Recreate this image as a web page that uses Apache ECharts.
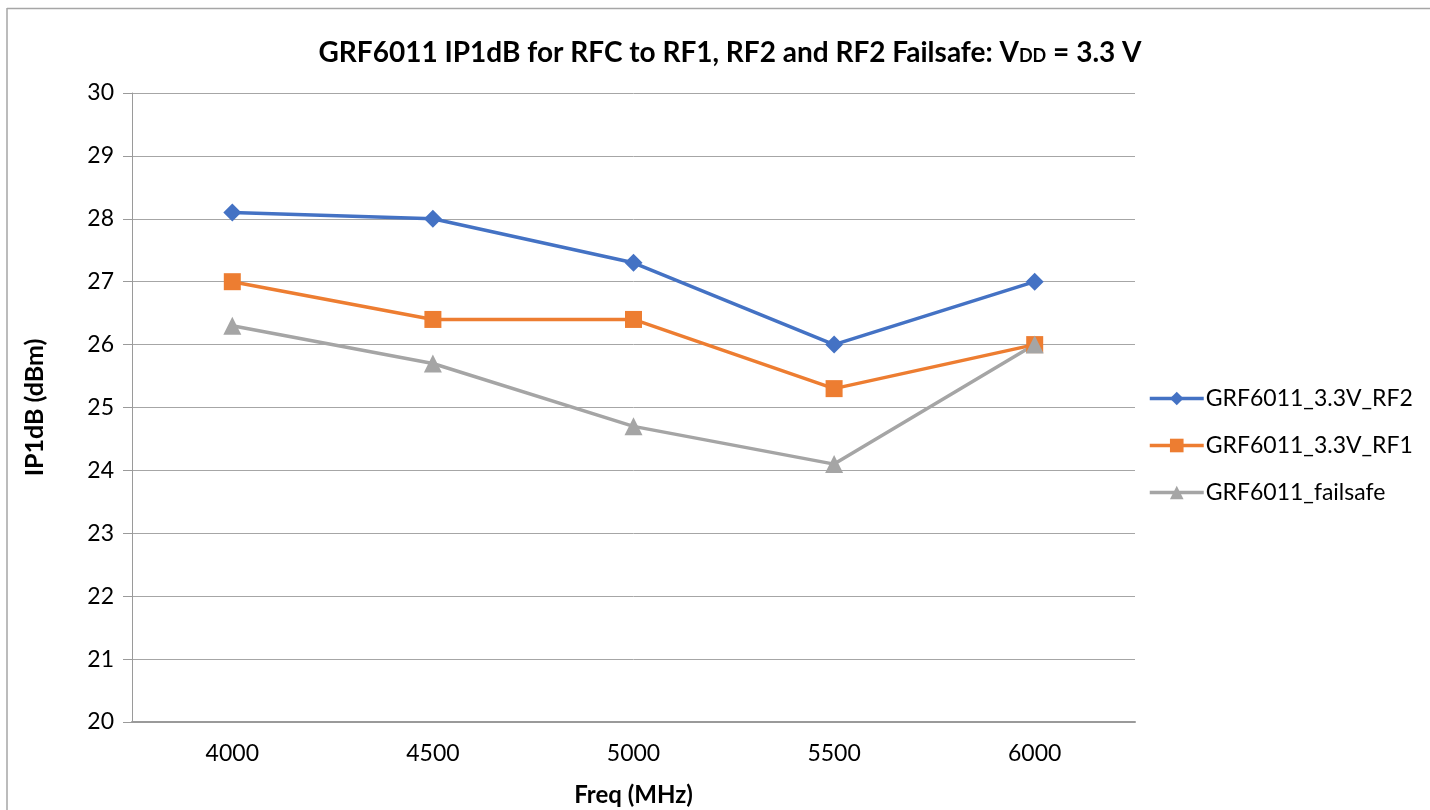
<!DOCTYPE html>
<html>
<head>
<meta charset="utf-8">
<script src="https://cdn.jsdelivr.net/npm/echarts@6/dist/echarts.min.js"></script>
<style>
  html, body { margin: 0; padding: 0; background: #fff; }
  #chart { width: 1430px; height: 810px; }
</style>
</head>
<body>
<div id="chart"></div>
<script>
const categories = ['4000', '4500', '5000', '5500', '6000']
const rf2 = [28.1, 28.0, 27.3, 26.0, 27.0]
const rf1 = [27.0, 26.4, 26.4, 25.3, 26.0]
const failsafe = [26.3, 25.7, 24.7, 24.1, 26.0]
const seriesNames = ['GRF6011_3.3V_RF2', 'GRF6011_3.3V_RF1', 'GRF6011_failsafe']

const FONT = 'Lato, "Open Sans", sans-serif'

const chart = echarts.init(document.getElementById('chart'))

function lineSeries(name, data, color, symbol, size) {
  return {
    name,
    type: 'line',
    data,
    symbol,
    symbolSize: size,
    lineStyle: { color, width: 3.5 },
    itemStyle: { color },
    emphasis: { disabled: true }
  }
}

chart.setOption({
  animation: false,
  backgroundColor: '#fff',
  textStyle: { fontFamily: FONT },
  title: {
    text: 'GRF6011 IP1dB for RFC to RF1, RF2 and RF2 Failsafe: V{sub|DD} = 3.3 V',
    left: 725,
    top: 34,
    textAlign: 'center',
    textStyle: {
      fontFamily: FONT,
      fontSize: 28,
      fontWeight: 'bold',
      color: '#000',
      rich: {
        sub: { fontFamily: FONT, fontSize: 18, fontWeight: 'bold', color: '#000', padding: [6, 0, 0, 0] }
      }
    }
  },
  legend: {
    orient: 'vertical',
    left: 1143,
    top: 382,
    itemGap: 24,
    itemWidth: 54,
    itemHeight: 17,
    data: seriesNames,
    lineStyle: { width: 3.5 },
    textStyle: { fontFamily: FONT, fontSize: 23, color: '#000', padding: [0, 0, 0, -3] }
  },
  grid: { left: 132, right: 295, top: 93, bottom: 88, outerBoundsMode: 'none' },
  xAxis: {
    type: 'category',
    data: categories,
    boundaryGap: true,
    name: 'Freq (MHz)',
    nameLocation: 'middle',
    nameGap: 61,
    nameTextStyle: { fontFamily: FONT, fontSize: 24, fontWeight: 'bold', color: '#000' },
    axisLine: { lineStyle: { color: '#9a9a9a', width: 2 } },
    axisTick: { show: false },
    axisLabel: { fontFamily: FONT, fontSize: 23, color: '#000', margin: 20 }
  },
  yAxis: {
    type: 'value',
    min: 20,
    max: 30,
    interval: 1,
    name: 'IP1dB (dBm)',
    nameLocation: 'middle',
    nameGap: 85,
    nameTextStyle: { fontFamily: FONT, fontSize: 25, fontWeight: 'bold', color: '#000' },
    axisLine: { show: true, lineStyle: { color: '#9a9a9a', width: 1 } },
    axisTick: { show: true, length: 9, lineStyle: { color: '#9a9a9a' } },
    axisLabel: { fontFamily: FONT, fontSize: 23, color: '#000', margin: 18 },
    splitLine: { lineStyle: { color: '#a6a6a6', width: 1 } }
  },
  graphic: [
    { type: 'line', shape: { x1: 7, y1: 8.5, x2: 1430, y2: 8.5 }, style: { stroke: '#a6a6a6', lineWidth: 1.5 } },
    { type: 'line', shape: { x1: 7, y1: 8, x2: 7, y2: 810 }, style: { stroke: '#a6a6a6', lineWidth: 1.5 } }
  ],
  series: [
    lineSeries(seriesNames[0], rf2, '#4472C4', 'diamond', 18),
    lineSeries(seriesNames[1], rf1, '#ED7D31', 'rect', 17),
    lineSeries(seriesNames[2], failsafe, '#A5A5A5', 'triangle', 18)
  ]
})
</script>
</body>
</html>
